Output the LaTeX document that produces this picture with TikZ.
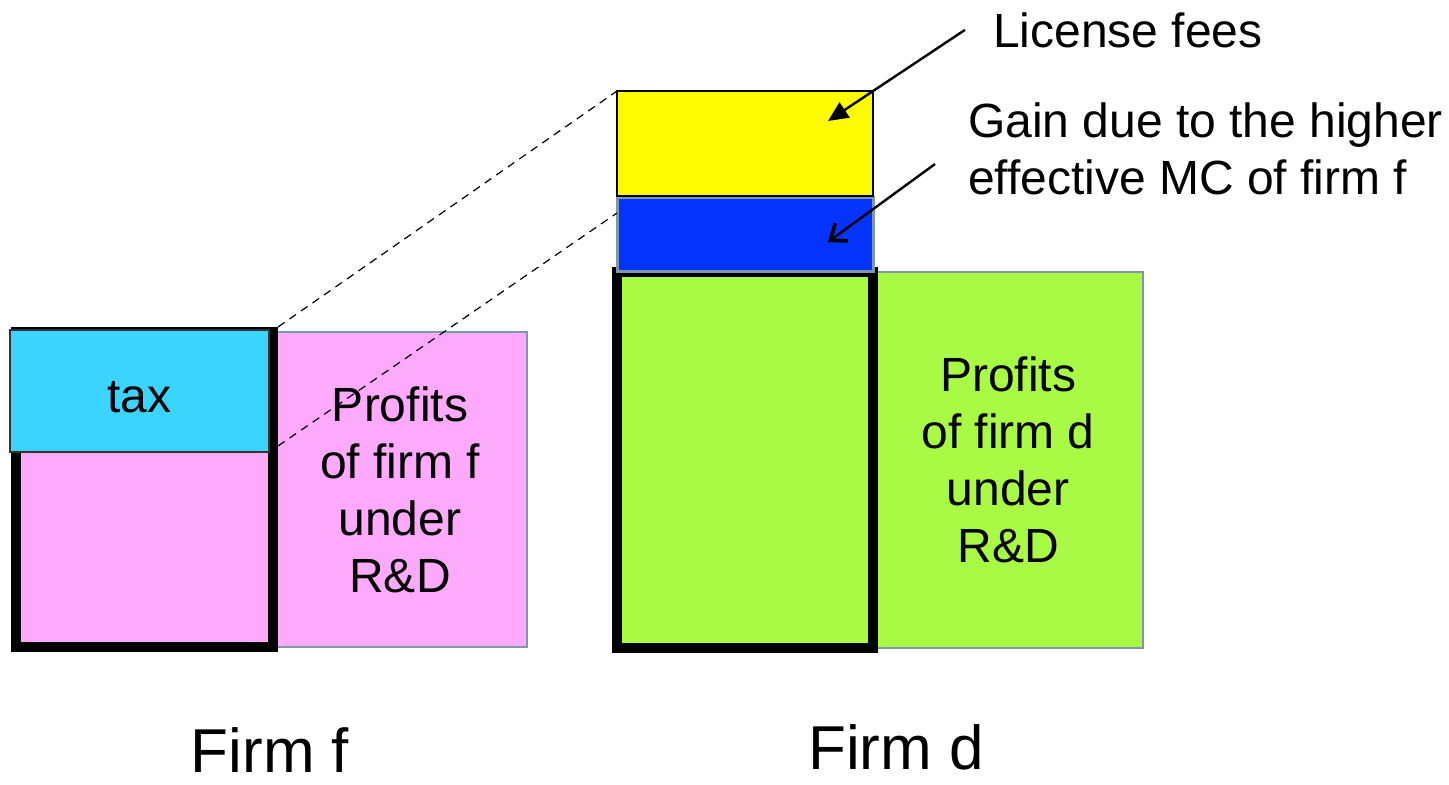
\documentclass[tikz,border=0pt]{standalone}
\usepackage{fontspec}
\setmainfont{Liberation Sans}
\usetikzlibrary{arrows.meta,calc}

\definecolor{profitpink}{RGB}{253,170,253}
\definecolor{taxcyan}{RGB}{58,212,255}
\definecolor{profitgreen}{RGB}{168,250,68}
\definecolor{feeyellow}{RGB}{255,251,0}
\definecolor{gainblue}{RGB}{4,51,255}
\definecolor{edgegray}{RGB}{128,150,170}

\begin{document}
\begin{tikzpicture}[x=0.5pt,y=-0.5pt,
  every node/.style={inner sep=0pt, outer sep=0pt,
    font=\fontsize{24}{28.5}\selectfont},
  box/.style={draw, anchor=north west, align=center},
  part/.style={box, line width=5pt, draw=black},
  share/.style={box, line width=1.2pt, draw=edgegray},
  dashline/.style={line width=0.6pt, dash pattern=on 4pt off 3pt},
  pointer/.style={line width=1.2pt},
  firmlabel/.style={anchor=base, font=\fontsize{31}{36}\selectfont}]

\useasboundingbox (0,0) rectangle (1449,784);

% firm f
\node[share, fill=profitpink, minimum width=127pt, minimum height=157.5pt]
  (proff) at (273,332) {Profits\\of firm f\\under\\R\&D};
\node[part, fill=profitpink, minimum width=128.5pt, minimum height=157.5pt]
  (costf) at (16,332) {};
\node[box, fill=taxcyan, draw=black!80, line width=0.8pt, text height=21.5pt,
  minimum width=129.5pt, minimum height=61pt] (tax) at (10,330) {tax};

% firm d
\node[share, fill=profitgreen, minimum width=135pt, minimum height=188pt]
  (profd) at (873,272) {Profits\\of firm d\\under\\R\&D};
\node[part, fill=profitgreen, minimum width=128pt, minimum height=188pt]
  (costd) at (617,272) {};
\node[box, fill=gainblue, draw=edgegray, line width=1.5pt,
  minimum width=128pt, minimum height=37pt] (gain) at (617,197) {};
\node[box, fill=feeyellow, draw=black, line width=0.8pt,
  minimum width=128pt, minimum height=52.5pt] (fees) at (617,91) {};

% tax moves over to firm d
\draw[dashline] ([shift={(2.5pt,2.5pt)}]costf.north east) -- (fees.north west);
\draw[dashline] ($(tax.south east)+(4.5pt,3pt)$) -- ([yshift=-8pt]gain.north west);

% labels and pointers
\node[anchor=base west] (feeslbl) at (993,47) {License fees};
\node[anchor=north west, align=left] (gainlbl) at (968,103)
  {Gain due to the higher\\effective MC of firm f};

\coordinate (feestip) at (828,121);
\coordinate (gaintail) at (935,164);
\coordinate (gaintip) at (828,242);
\draw[pointer, -{Triangle[length=10pt,width=9pt]}]
  ([xshift=-14pt]feeslbl.west) -- (feestip);
\draw[pointer, -{Straight Barb[length=7pt,width=11pt,line width=1.8pt]}]
  (gaintail) -- (gaintip);

\node[firmlabel] (firmf) at (270,772) {Firm f};
\node[firmlabel] (firmd) at (896,769) {Firm d};
\end{tikzpicture}
\end{document}
